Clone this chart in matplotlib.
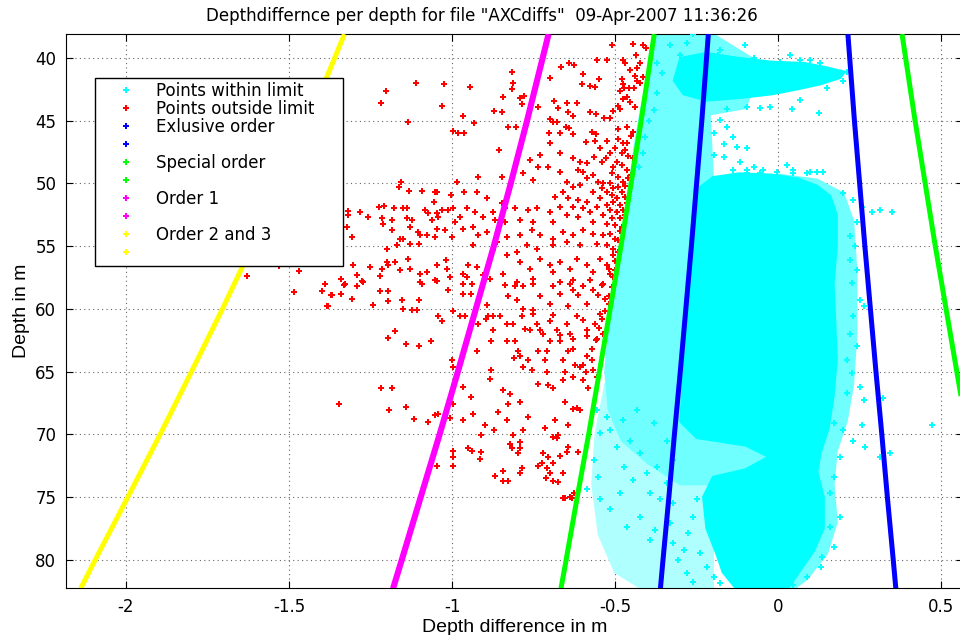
# Depth difference per depth, with IHO order limits (recreated from screenshot).

import numpy as np
import matplotlib
matplotlib.use("Agg")
import matplotlib.pyplot as plt
from matplotlib.patches import Polygon
from matplotlib.lines import Line2D

plt.rcParams["font.family"] = ["DejaVu Sans"]

# ---- limit curves (half width in m) read at these depths ----
limit_depth   = [38.1, 45, 50, 55, 60, 65, 70, 75, 80, 82.3]
exclusive_lim = [0.214, 0.234, 0.250, 0.266, 0.283, 0.300, 0.318, 0.335, 0.353, 0.361]
special_lim   = [0.380, 0.420, 0.451, 0.482, 0.515, 0.548, 0.581, 0.616, 0.650, 0.666]
order1_lim    = [0.704, 0.770, 0.820, 0.872, 0.927, 0.982, 1.038, 1.096, 1.154, 1.181]
order23_lim   = [1.330, 1.439, 1.524, 1.613, 1.704, 1.799, 1.895, 1.994, 2.094, 2.139]

# ---- points within limit: outline of the solid mass of dots (x, depth) ----
within_band_core = [(-0.30, 40.0), (-0.22, 39.6), (-0.12, 40.0), (-0.02, 40.3), (0.08, 40.4),
                    (0.14, 40.7), (0.205, 41.1), (0.19, 41.6), (0.13, 42.1), (0.06, 42.5),
                    (-0.02, 42.9), (-0.12, 43.2), (-0.22, 43.4), (-0.29, 42.9), (-0.32, 41.8)]
within_main_core = [(-0.24, 50.3), (-0.20, 49.5), (-0.12, 49.2), (-0.02, 49.3), (0.06, 49.6),
                    (0.12, 50.2), (0.16, 51.0), (0.18, 52.5), (0.18, 55), (0.17, 58), (0.175, 61),
                    (0.18, 64), (0.17, 67), (0.155, 69.5), (0.13, 71.5), (0.12, 73), (0.14, 75),
                    (0.14, 77.5), (0.11, 79.3), (0.07, 80.8), (0.03, 82.3), (-0.13, 82.3),
                    (-0.17, 81), (-0.19, 79.5), (-0.22, 77.5), (-0.23, 75), (-0.2, 73.4),
                    (-0.1, 72.8), (-0.03, 71.8), (-0.1, 70.9), (-0.25, 70.3), (-0.30, 69),
                    (-0.29, 65), (-0.275, 60), (-0.26, 55)]
# thinner (speckled) parts of the cloud
within_left_halo = [(-0.37, 38.1), (-0.39, 41), (-0.42, 44), (-0.44, 47), (-0.455, 50), (-0.47, 53),
                    (-0.49, 56), (-0.505, 59), (-0.52, 62), (-0.53, 65), (-0.52, 68), (-0.48, 70.5),
                    (-0.40, 72.3), (-0.30, 74), (0.0, 74), (0.02, 70.5), (-0.2, 69),
                    (-0.2, 49.5), (-0.21, 44.5), (-0.1, 44), (-0.05, 40.5), (-0.2, 38.1)]
within_right_halo = [(0.0, 49.3), (0.12, 49.7), (0.2, 50.8), (0.23, 53), (0.24, 57), (0.24, 62),
                     (0.23, 66), (0.21, 69), (0.18, 71.3), (0.17, 74), (0.18, 77), (0.15, 79.5),
                     (0.09, 81.5), (0.05, 82.3), (0.0, 82.3)]
within_low_halo = [(-0.53, 66), (-0.56, 70), (-0.57, 74), (-0.55, 78), (-0.5, 81), (-0.42, 82.3),
                   (-0.2, 82.3), (-0.2, 70)]

# scattered single points within limit
within_top = [(-0.333, 39.0), (-0.278, 38.8), (-0.262, 38.1), (-0.101, 39.0), (-0.30, 39.8),
              (-0.177, 39.4), (-0.183, 39.8), (-0.157, 40.3), (-0.075, 40.0), (0.006, 40.3),
              (0.037, 39.8), (0.068, 40.2), (0.098, 40.2), (0.129, 40.4), (0.155, 41.0),
              (0.211, 41.1), (0.2, 41.8), (0.15, 42.4), (0.068, 43.35), (0.042, 44.07),
              (0.124, 44.4), (-0.024, 43.9), (-0.055, 44.0), (-0.096, 43.9), (-0.157, 44.1),
              (-0.372, 40.4), (-0.357, 41.2), (-0.372, 42.8), (-0.382, 44.15), (-0.397, 45.0),
              (-0.408, 46.3), (-0.413, 47.6), (-0.428, 48.7)]
within_gap = [(-0.178, 44.95), (-0.157, 45.5), (-0.198, 46.0), (-0.137, 46.3), (-0.167, 46.9),
              (-0.126, 47.1), (-0.096, 47.2), (-0.198, 47.7), (-0.167, 47.9), (-0.116, 48.3),
              (-0.075, 48.7), (-0.045, 48.9), (-0.004, 49.1), (0.047, 49.2), (0.098, 49.1),
              (0.139, 49.1), (0.027, 48.5), (-0.137, 48.9), (-0.096, 49.2), (0.118, 49.06),
              (0.088, 49.2), (0.047, 48.9), (-0.056, 49.2), (-0.096, 48.9)]
within_right = [(0.2, 50.8), (0.231, 51.3), (0.256, 51.85), (0.287, 52.25), (0.313, 52.1),
                (0.348, 52.25), (0.241, 53.05), (0.221, 54.2), (0.236, 55.0), (0.221, 56.1),
                (0.241, 56.9), (0.226, 57.97), (0.251, 59.3), (0.262, 59.8), (0.231, 60.6),
                (0.221, 62.0), (0.241, 63.0), (0.21, 64.1), (0.226, 65.1), (0.251, 66.2),
                (0.323, 67.1), (0.263, 67.3), (0.21, 66.7), (0.17, 69.1), (0.2, 69.7),
                (0.231, 70.5), (0.257, 69.3), (0.267, 71.0), (0.313, 71.8), (0.344, 71.5),
                (0.471, 69.3), (0.19, 71.8), (0.17, 73.4), (0.16, 74.7), (0.19, 76.6),
                (0.16, 77.4), (0.17, 79.0), (0.13, 80.6), (0.088, 81.4), (0.047, 82.0),
                (0.134, 79.8)]
within_low = [(-0.556, 68.07), (-0.525, 68.6), (-0.546, 69.9), (-0.566, 72.05), (-0.551, 73.4),
              (-0.587, 74.4), (-0.546, 75.2), (-0.515, 76.0), (-0.485, 74.7), (-0.464, 77.4),
              (-0.423, 76.6), (-0.393, 78.4), (-0.377, 77.6), (-0.474, 72.6), (-0.444, 73.65),
              (-0.403, 73.1), (-0.423, 71.5), (-0.372, 72.6), (-0.393, 74.7), (-0.362, 75.2),
              (-0.495, 71.0), (-0.454, 70.5), (-0.515, 69.7), (-0.475, 68.9), (-0.433, 68.1),
              (-0.382, 69.1), (-0.341, 70.5), (-0.321, 72.05), (-0.341, 73.9), (-0.321, 75.5),
              (-0.331, 77.1), (-0.321, 78.7), (-0.306, 80.0), (-0.28, 81.1), (-0.26, 81.8),
              (-0.29, 79.2), (-0.275, 77.9), (-0.26, 76.6), (-0.25, 75.2), (-0.239, 79.5),
              (-0.219, 80.6), (-0.198, 81.4), (-0.178, 81.9)]

# ---- points outside limit (x, depth) ----
outside_38_45 = [(-0.415, 39.0), (-0.405, 39.2), (-0.437, 39.8), (-0.51, 39.0), (-0.446, 38.9),
                 (-0.665, 40.75), (-0.642, 40.4), (-0.625, 40.6), (-0.554, 40.2), (-0.526, 40.2),
                 (-0.475, 40.2), (-0.469, 40.4), (-0.454, 41.0), (-0.425, 40.4), (-0.434, 40.8),
                 (-0.817, 41.1), (-0.699, 41.6), (-0.598, 41.3), (-1.111, 42.0), (-1.026, 42.1),
                 (-0.946, 42.3), (-0.814, 42.0), (-0.815, 42.5), (-1.204, 42.6), (-0.600, 42.1),
                 (-0.577, 42.2), (-0.563, 42.3), (-0.550, 41.7), (-0.480, 41.7), (-0.477, 42.1),
                 (-0.474, 42.4), (-0.457, 42.4), (-0.441, 42.4), (-0.423, 42.0), (-0.415, 41.5),
                 (-0.44, 41.4), (-0.434, 41.8), (-1.219, 43.6), (-1.032, 43.8), (-1.136, 45.1),
                 (-0.844, 43.1), (-0.793, 43.2), (-0.779, 43.0), (-0.785, 43.7), (-0.871, 44.2),
                 (-0.846, 44.3), (-0.966, 44.6), (-0.932, 45.2), (-0.735, 43.9), (-0.700, 44.9),
                 (-0.686, 43.4), (-0.674, 44.0), (-0.649, 43.6), (-0.618, 43.6), (-0.643, 44.3),
                 (-0.628, 44.6), (-0.577, 44.3), (-0.558, 44.5), (-0.534, 44.8), (-0.517, 44.8),
                 (-0.505, 44.2), (-0.484, 42.6), (-0.475, 43.3), (-0.454, 43.5), (-0.490, 43.8),
                 (-0.485, 44.1), (-0.464, 43.1), (-0.439, 43.9)]
outside_45_50 = [(-0.827, 45.5), (-0.804, 45.5), (-0.996, 45.8), (-0.981, 46.0), (-0.962, 46.0),
                 (-0.689, 45.1), (-0.677, 45.1), (-0.651, 45.5), (-0.640, 45.6), (-0.704, 46.0),
                 (-0.669, 46.0), (-0.628, 46.1), (-0.570, 45.9), (-0.558, 46.1), (-0.490, 45.7),
                 (-0.464, 45.5), (-0.444, 45.9), (-0.699, 46.8), (-0.590, 46.7), (-0.563, 46.6),
                 (-0.526, 46.6), (-0.490, 46.5), (-0.475, 46.8), (-0.463, 46.8), (-0.857, 47.3),
                 (-0.546, 47.2), (-0.515, 47.6), (-0.480, 47.6), (-0.469, 47.3), (-0.50, 47.2),
                 (-0.669, 47.6), (-0.761, 48.1), (-0.730, 47.7), (-0.564, 47.9), (-0.528, 48.0),
                 (-0.540, 48.3), (-0.628, 48.0), (-0.607, 48.3), (-0.587, 48.4), (-0.735, 48.7),
                 (-0.705, 48.7), (-0.669, 49.1), (-0.781, 49.2), (-0.751, 49.7), (-0.848, 49.5),
                 (-0.919, 49.5), (-0.613, 48.9), (-0.597, 49.1), (-0.587, 49.6), (-0.648, 49.9),
                 (-0.567, 49.3), (-0.551, 49.9), (-0.536, 50.0), (-0.505, 48.7), (-0.495, 48.3),
                 (-0.480, 48.5), (-0.464, 48.9), (-0.51, 49.2), (-0.49, 49.5), (-0.475, 49.9),
                 (-0.459, 49.6), (-0.515, 50.0), (-0.444, 48.0), (-0.45, 49.3), (-0.46, 47.8),
                 (-0.45, 46.2)]
outside_50_55 = [(-0.541, 50.4), (-0.526, 50.7), (-0.505, 50.4), (-0.49, 50.3), (-0.51, 50.9),
                 (-0.495, 51.2), (-0.48, 50.7), (-0.469, 51.1), (-0.505, 51.5), (-0.526, 51.7),
                 (-0.485, 51.7), (-0.464, 51.6), (-0.515, 52.1), (-0.495, 52.3), (-0.475, 52.1),
                 (-0.536, 52.5), (-0.51, 52.8), (-0.485, 52.8), (-0.526, 53.2), (-0.5, 53.3),
                 (-0.48, 53.5), (-0.546, 51.2), (-0.556, 51.9), (-0.567, 50.7), (-0.47, 50.2),
                 (-0.47, 52.5), (-0.485, 53.8), (-0.607, 50.1), (-0.628, 50.3), (-0.659, 50.7),
                 (-0.684, 51.1), (-0.643, 51.2), (-0.613, 51.3), (-0.587, 51.5), (-0.669, 51.9),
                 (-0.628, 51.9), (-0.597, 52.0), (-0.577, 52.3), (-0.699, 52.3), (-0.648, 52.5),
                 (-0.613, 52.7), (-0.74, 52.0), (-0.766, 52.1), (-0.791, 52.9), (-0.751, 53.1),
                 (-0.689, 53.1), (-0.567, 53.1), (-1.002, 50.9), (-0.986, 49.9), (-0.962, 50.7),
                 (-0.924, 50.7), (-0.894, 51.2), (-0.955, 52.0), (-0.93, 52.3), (-0.904, 52.7),
                 (-0.873, 52.3), (-0.848, 51.6), (-0.838, 52.0), (-0.807, 52.0), (-0.868, 52.9),
                 (-0.838, 53.1), (-0.996, 52.0), (-0.976, 52.7), (-0.991, 53.1), (-1.158, 49.9),
                 (-1.164, 50.3), (-1.132, 50.6), (-1.091, 50.6), (-1.051, 50.7), (-1.045, 50.7),
                 (-1.223, 51.9), (-1.208, 51.8), (-1.177, 52.0), (-1.149, 52.0), (-1.139, 52.0),
                 (-1.083, 52.1), (-1.073, 52.4), (-1.047, 52.4), (-1.032, 52.1), (-1.011, 52.1),
                 (-1.318, 52.2), (-1.318, 52.5), (-1.282, 52.3), (-1.257, 52.7), (-1.216, 52.8),
                 (-1.185, 52.9), (-1.139, 52.8), (-1.124, 52.9), (-1.062, 52.9), (-1.042, 52.7),
                 (-1.054, 51.5), (-1.323, 53.5), (-1.211, 53.2), (-1.185, 53.7), (-1.16, 54.4),
                 (-1.15, 54.4), (-1.129, 53.5), (-1.103, 53.9), (-1.098, 54.1), (-1.078, 54.1),
                 (-1.047, 53.6), (-1.022, 53.7), (-1.052, 54.3), (-1.001, 54.3), (-1.129, 54.8),
                 (-1.1, 54.8), (-1.2, 55.2), (-1.17, 54.9), (-1.306, 54.3), (-0.965, 53.6),
                 (-0.935, 53.5), (-0.919, 54.1), (-0.894, 53.9), (-0.863, 54.7), (-0.832, 54.3),
                 (-0.791, 54.1), (-0.756, 53.7), (-0.73, 54.1), (-0.689, 54.4), (-0.659, 53.9),
                 (-0.628, 54.1), (-0.597, 53.7), (-0.567, 54.0), (-0.536, 54.1), (-0.515, 54.0),
                 (-0.5, 54.4), (-0.689, 54.9), (-0.648, 54.7), (-0.607, 54.9), (-0.556, 54.8),
                 (-0.526, 54.9), (-0.505, 55.2), (-0.771, 54.9), (-0.74, 55.2), (-0.935, 54.9),
                 (-0.873, 55.3), (-0.49, 54.5)]
outside_55_60 = [(-1.303, 56.5), (-1.293, 57.3), (-1.272, 57.9), (-1.252, 56.7), (-1.216, 56.8),
                 (-1.2, 56.3), (-1.195, 56.5), (-1.175, 56.3), (-1.221, 57.4), (-1.16, 56.9),
                 (-1.134, 56.0), (-1.129, 56.8), (-1.098, 57.2), (-1.078, 57.1), (-1.047, 56.5),
                 (-1.019, 56.1), (-1.016, 56.8), (-1.098, 57.9), (-1.052, 57.7), (-1.006, 57.5),
                 (-0.965, 57.2), (-0.955, 57.5), (-0.924, 56.7), (-0.904, 57.3), (-0.95, 56.5),
                 (-0.832, 55.7), (-0.802, 55.5), (-0.791, 56.3), (-0.761, 56.8), (-0.73, 56.0),
                 (-0.699, 56.5), (-0.689, 57.1), (-0.669, 56.3), (-0.638, 56.8), (-0.618, 56.0),
                 (-0.587, 56.5), (-0.567, 57.1), (-0.546, 56.0), (-0.526, 56.5), (-0.515, 57.2),
                 (-0.577, 57.7), (-0.628, 57.7), (-0.669, 57.9), (-0.751, 57.6), (-0.802, 57.9),
                 (-0.843, 57.2), (-0.884, 57.6), (-0.536, 58.0), (-0.505, 55.7), (-0.49, 55.5),
                 (-0.50, 56.2), (-0.52, 56.8), (-0.50, 56.9), (-0.505, 57.5),
                 (-1.63, 57.4), (-1.53, 56.6), (-1.47, 57.0), (-1.485, 58.7), (-1.39, 58.0),
                 (-1.40, 58.6), (-1.37, 58.9), (-1.34, 58.8), (-1.34, 57.6), (-1.38, 59.8),
                 (-1.33, 58.1), (-1.385, 59.8), (-1.369, 58.9), (-1.328, 58.0), (-1.308, 59.2),
                 (-1.293, 58.2), (-1.277, 57.8), (-1.241, 59.7), (-1.221, 58.6), (-1.195, 58.6),
                 (-1.195, 59.4), (-1.154, 59.3), (-1.149, 60.0), (-1.124, 60.1), (-1.108, 60.1),
                 (-1.1, 59.3), (-1.093, 58.0), (-1.047, 57.8), (-1.013, 58.5), (-0.965, 58.0),
                 (-0.94, 58.0), (-0.965, 58.8), (-0.943, 58.8), (-0.894, 59.7), (-0.838, 58.1),
                 (-0.807, 58.2), (-0.827, 59.0), (-0.802, 59.3), (-0.781, 60.0), (-0.751, 60.1),
                 (-0.73, 59.0), (-0.699, 59.6), (-0.689, 58.2), (-0.669, 58.8), (-0.638, 58.0),
                 (-0.628, 58.5), (-0.613, 58.9), (-0.597, 58.2), (-0.587, 59.6), (-0.567, 58.5),
                 (-0.551, 58.9), (-0.541, 58.1), (-0.531, 59.2), (-0.52, 59.6), (-0.643, 59.8),
                 (-0.751, 58.0), (-0.781, 58.2), (-0.51, 58.3), (-0.52, 59.0)]
outside_60_68 = [(-0.998, 60.2), (-1.042, 60.6), (-1.032, 61.0), (-0.976, 60.6), (-0.96, 60.6),
                 (-0.921, 61.2), (-0.889, 60.6), (-0.873, 60.6), (-0.853, 60.6), (-0.832, 61.2),
                 (-0.812, 61.2), (-0.786, 60.6), (-0.776, 61.6), (-0.761, 61.7), (-0.73, 61.7),
                 (-0.751, 60.4), (-0.689, 60.5), (-0.699, 61.0), (-0.679, 61.7), (-0.648, 61.2),
                 (-0.618, 60.6), (-0.597, 60.9), (-0.587, 61.7), (-0.561, 61.2), (-0.546, 60.4),
                 (-0.536, 62.0), (-0.556, 62.4), (-0.587, 62.2), (-0.628, 62.4), (-0.638, 62.0),
                 (-0.669, 62.1), (-0.72, 62.0), (-0.832, 62.6), (-0.807, 62.6), (-0.88, 62.6),
                 (-0.896, 60.8), (-1.175, 61.8), (-1.195, 62.3), (-1.141, 62.8), (-1.1, 63.0),
                 (-1.066, 62.6), (-0.873, 61.7), (-0.699, 62.6), (-0.669, 62.6), (-0.74, 61.2),
                 (-0.53, 60.2), (-0.54, 60.8), (-0.55, 61.5), (-0.56, 62.5), (-1.001, 64.1),
                 (-0.996, 64.6), (-0.925, 63.4), (-0.809, 63.9), (-0.797, 63.4), (-0.792, 63.8),
                 (-0.781, 64.6), (-0.766, 64.1), (-0.735, 63.4), (-0.71, 63.4), (-0.715, 64.1),
                 (-0.659, 64.1), (-0.643, 63.4), (-0.628, 63.2), (-0.623, 64.5), (-0.607, 64.6),
                 (-0.597, 64.5), (-0.587, 63.8), (-0.572, 64.1), (-0.567, 64.9), (-0.653, 65.0),
                 (-0.756, 64.9), (-0.71, 65.0), (-0.88, 64.9), (-0.883, 65.6), (-0.57, 63.2),
                 (-1.219, 66.3), (-1.183, 66.3), (-0.965, 66.2), (-0.843, 66.5), (-0.822, 66.8),
                 (-0.791, 67.4), (-0.735, 66.0), (-0.705, 66.1), (-0.689, 66.3), (-0.659, 65.7),
                 (-0.628, 65.4), (-0.597, 65.7), (-0.582, 66.3), (-0.556, 65.4), (-0.653, 67.4),
                 (-0.618, 67.9), (-0.607, 68.1), (-0.63, 68.0), (-0.827, 67.6), (-0.942, 67.0),
                 (-1.346, 67.6), (-1.192, 68.1), (-1.141, 67.8), (-0.996, 67.6), (-0.59, 65.0)]
outside_68_76 = [(-1.116, 68.8), (-1.073, 69.0), (-1.052, 68.5), (-1.042, 68.4), (-1.006, 68.7),
                 (-0.965, 68.9), (-0.937, 68.4), (-0.899, 69.3), (-0.871, 69.7), (-0.858, 68.2),
                 (-0.832, 68.9), (-0.812, 70.1), (-0.781, 69.7), (-0.766, 68.6), (-0.715, 69.5),
                 (-0.684, 68.9), (-0.689, 70.2), (-0.674, 70.1), (-0.643, 69.3), (-0.911, 70.1),
                 (-0.952, 71.1), (-0.94, 71.3), (-0.911, 71.4), (-0.914, 72.0), (-0.822, 70.8),
                 (-0.817, 71.1), (-0.792, 70.6), (-0.792, 71.1), (-0.797, 71.5), (-0.72, 71.5),
                 (-0.705, 71.8), (-0.689, 72.3), (-0.679, 70.3), (-0.669, 71.7), (-0.648, 71.4),
                 (-0.643, 71.0), (-0.613, 71.4), (-0.735, 72.5), (-0.725, 72.3), (-1.047, 72.5),
                 (-0.996, 71.8), (-0.996, 72.5), (-0.998, 71.3), (-0.868, 73.3), (-0.843, 72.9),
                 (-0.845, 73.7), (-0.829, 73.7), (-0.792, 73.1), (-0.786, 72.7), (-0.71, 72.7),
                 (-0.7, 73.1), (-0.712, 73.5), (-0.689, 73.7), (-0.674, 73.8), (-0.659, 73.1),
                 (-0.653, 75.1), (-0.638, 75.0), (-0.659, 75.06), (-0.631, 75.1), (-0.625, 74.7)]

legend_labels = ["Points within limit", "Points outside limit", "Exlusive order", " ",
                 "Special order", " ", "Order 1", " ", "Order 2 and 3", " "]
title_text = 'Depthdiffernce per depth for file "AXCdiffs"  09-Apr-2007 11:36:26'

CYAN, RED = (0, 1, 1), (1, 0, 0)

fig = plt.figure(figsize=(9.6, 6.35), dpi=100)
ax = fig.add_axes([66 / 960, 47 / 635, 897 / 960, 554 / 635])

# cloud of points within limit
for poly, col in [(within_low_halo, "#b0ffff"), (within_left_halo, "#70ffff"),
                  (within_right_halo, "#70ffff"), (within_band_core, CYAN),
                  (within_main_core, CYAN)]:
    ax.add_patch(Polygon(poly, closed=True, facecolor=col, edgecolor=col, lw=1.5, zorder=2))

within_pts = np.array(within_top + within_gap + within_right + within_low)
ax.plot(within_pts[:, 0], within_pts[:, 1], ls="none", marker="P", ms=4.6, mew=0,
        color=CYAN, zorder=3)

outside_pts = np.array(outside_38_45 + outside_45_50 + outside_50_55 + outside_55_60
                       + outside_60_68 + outside_68_76)
ax.plot(outside_pts[:, 0], outside_pts[:, 1], ls="none", marker="P", ms=4.8, mew=0,
        color=RED, zorder=3)

# limit lines (both signs)
d = np.array(limit_depth)
for lim, col, lw in [(exclusive_lim, "b", 3.6), (special_lim, (0, 1, 0), 3.6),
                     (order1_lim, (1, 0, 1), 4.4), (order23_lim, (1, 1, 0), 3.6)]:
    lim = np.array(lim)
    ax.plot(-lim, d, color=col, lw=lw, solid_capstyle="butt", zorder=4)
    ax.plot(lim, d, color=col, lw=lw, solid_capstyle="butt", zorder=4)

ax.set_xlim(-2.184, 0.567)
ax.set_ylim(82.26, 38.09)
ax.set_xticks([-2, -1.5, -1, -0.5, 0, 0.5])
ax.set_xticklabels(["-2", "-1.5", "-1", "-0.5", "0", "0.5"])
ax.set_yticks(range(40, 81, 5))
ax.tick_params(direction="in", length=5, width=0.8, top=True, right=True,
               labelsize=12, pad=7)
ax.grid(True, color="0.4", linestyle=(0, (1, 3)), linewidth=0.8)
ax.set_axisbelow(True)
for s in ax.spines.values():
    s.set_linewidth(0.8)

ax.set_xlabel("Depth difference in m", fontsize=14, family="Liberation Sans", labelpad=2)
ax.set_ylabel("Depth in m", fontsize=14, family="Liberation Sans", labelpad=4)
fig.text(482 / 960, 1 - 16 / 635, title_text, ha="center", va="center", fontsize=12)

cols = [CYAN, RED, "b", "b", (0, 1, 0), (0, 1, 0), (1, 0, 1), (1, 0, 1), (1, 1, 0), (1, 1, 0)]
handles = [Line2D([], [], ls="none", marker="P", ms=4, mew=0, color=c) for c in cols]
leg = ax.legend(handles, legend_labels, loc="upper left", mode="expand",
                bbox_to_anchor=(29 / 897, 0.9206, 248 / 897, 0.0), borderaxespad=0,
                prop={"family": "DejaVu Sans", "size": 12}, numpoints=1,
                handlelength=3.2, handletextpad=0.2, borderpad=0.25, labelspacing=0.0,
                fancybox=False, framealpha=1, edgecolor="k")
leg.get_frame().set_linewidth(1.0)
leg.set_zorder(10)

fig.savefig("out.png", dpi=100)
